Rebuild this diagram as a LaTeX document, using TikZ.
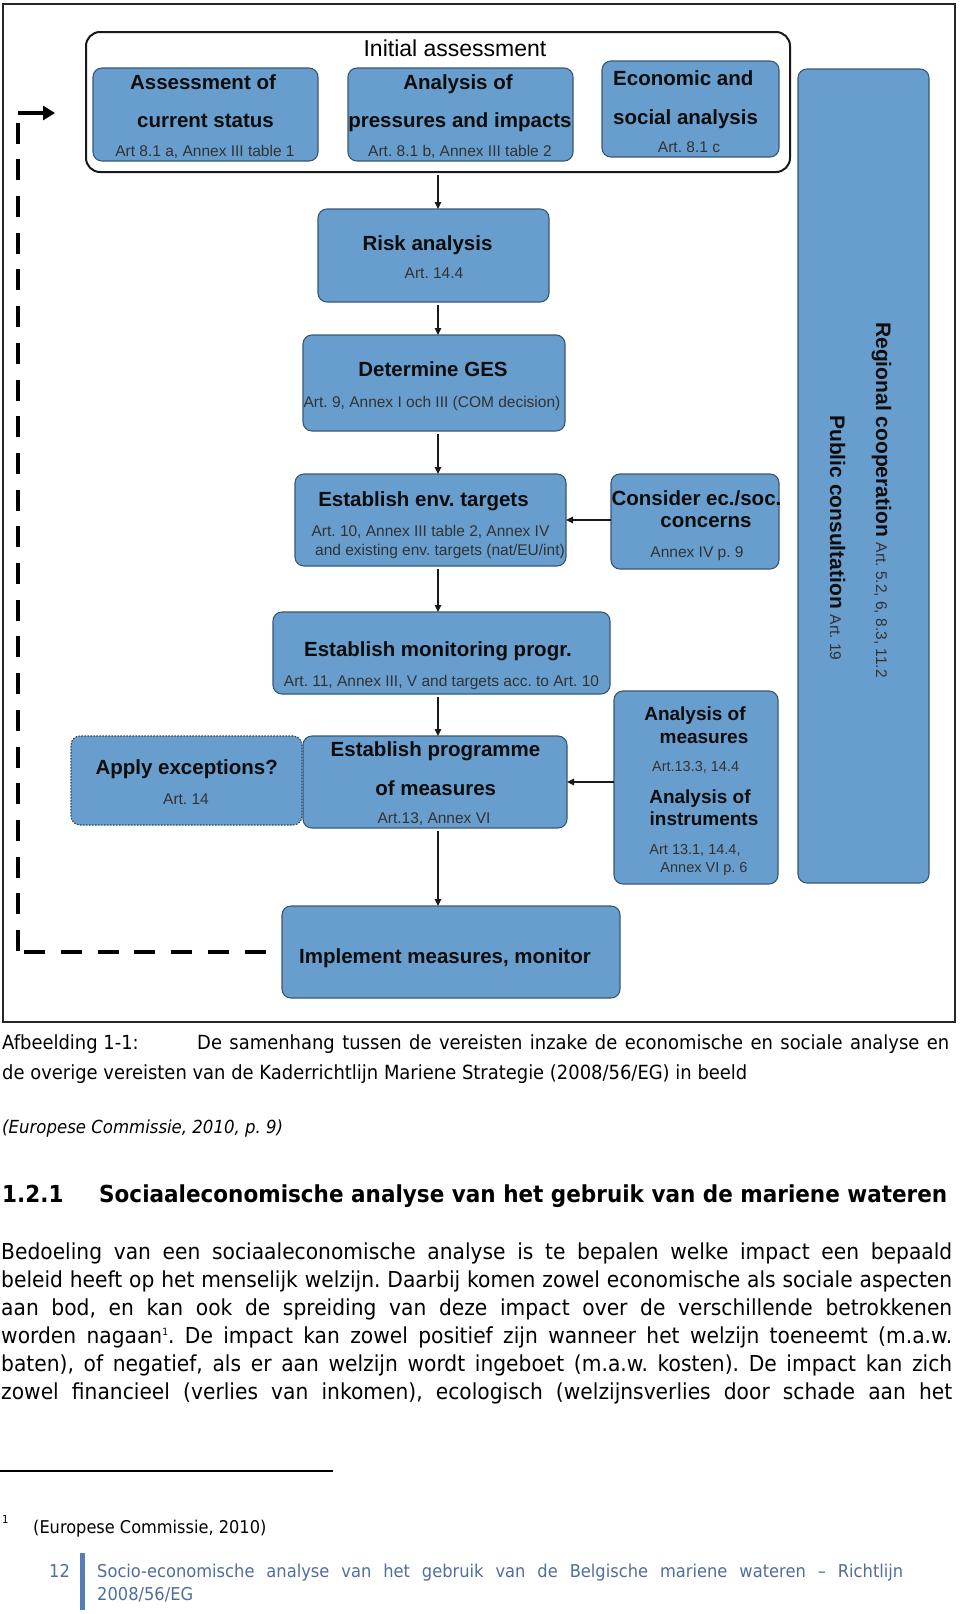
\documentclass[tikz,border=0pt]{standalone}
\usepackage{fontspec}
\setmainfont{DejaVu Sans}[FakeStretch=0.92]
\newfontfamily\arialfont{Liberation Sans}
\usetikzlibrary{arrows.meta}
\frenchspacing
\definecolor{boxblue}{RGB}{104,158,206}
\definecolor{boxline}{RGB}{58,86,118}
\definecolor{artgray}{RGB}{50,50,50}
\definecolor{footblue}{RGB}{80,110,155}
\definecolor{barblue}{RGB}{84,124,184}
\tikzset{
 box/.style={draw=boxline, fill=boxblue, line width=1.1pt, rounded corners=9pt, inner sep=0pt, outer sep=0pt},
 dotbox/.style={box, draw=boxline!80!black, dash pattern=on 1.6pt off 1.4pt},
 ttl/.style={anchor=base, inner sep=0pt, text=black!95, font=\arialfont\bfseries\fontsize{20.5}{20.5}\selectfont},
 sml/.style={anchor=base, inner sep=0pt, text=artgray, font=\arialfont\fontsize{15.5}{15.5}\selectfont},
 ttls/.style={ttl, font=\arialfont\bfseries\fontsize{19}{19}\selectfont},
 smls/.style={sml, font=\arialfont\fontsize{14.5}{14.5}\selectfont},
 rot/.style={anchor=base west, rotate=-90, inner sep=0pt, text=black!95, font=\arialfont\fontsize{21}{21}\selectfont},
 arr/.style={line width=1.3pt, draw=black!90, -{Triangle[length=7pt,width=6.5pt]}, shorten <=3pt},
 fbh/.style={line width=4.5pt, dash pattern=on 21pt off 15.9pt, dash phase=21pt},
 fbv/.style={line width=4.5pt, dash pattern=on 21pt off 15.7pt},
 fbarrow/.style={line width=4.5pt, -{Triangle[length=12pt,width=14pt]}},
 body/.style={anchor=base west, inner sep=0pt, font=\fontsize{22}{28}\selectfont},
 capt/.style={anchor=base west, inner sep=0pt, font=\fontsize{19.5}{19.5}\selectfont},
 foot/.style={anchor=base west, inner sep=0pt, text=footblue, font=\fontsize{17.7}{17.7}\selectfont},
}
\begin{document}
\begin{tikzpicture}[x=1pt,y=-1pt]
\useasboundingbox (0,0) rectangle (960,1614);
\fill[white] (0,0) rectangle (960,1614);

% outer frame
\node[draw=black!85, line width=1.6pt, minimum width=952pt, minimum height=1018pt, inner sep=0pt, outer sep=0pt] (frame) at (479,513) {};

% initial assessment frame
\node[draw=black!90, line width=2pt, rounded corners=14pt, minimum width=704pt, minimum height=140pt, inner sep=0pt, outer sep=0pt] (assess) at (438,102) {};
\node[anchor=base, inner sep=0pt, font=\arialfont\fontsize{23}{23}\selectfont] (assessT) at (455,56.7) {Initial assessment};

% boxes
\node[box, minimum width=225pt, minimum height=93pt] (cur) at (205.5,114.5) {};
\node[box, minimum width=225pt, minimum height=93pt] (press) at (460.5,114.5) {};
\node[box, minimum width=177pt, minimum height=96pt] (econ) at (690.5,109) {};
\node[box, minimum width=131pt, minimum height=814pt] (tall) at (863.5,476) {};
\node[box, minimum width=231pt, minimum height=93pt] (risk) at (433.5,255.5) {};
\node[box, minimum width=262pt, minimum height=96pt] (ges) at (434,383) {};
\node[box, minimum width=271pt, minimum height=92pt] (env) at (430.5,520) {};
\node[box, minimum width=168pt, minimum height=95pt] (cons) at (695,521.5) {};
\node[box, minimum width=337pt, minimum height=82pt] (mon) at (441.5,653) {};
\node[dotbox, minimum width=231pt, minimum height=89pt] (exc) at (186.5,780.5) {};
\node[box, minimum width=264pt, minimum height=92pt] (prog) at (435,782) {};
\node[box, minimum width=164pt, minimum height=193pt] (meas) at (696,787.5) {};
\node[box, minimum width=338pt, minimum height=92pt] (impl) at (451,952) {};

% box texts
\node[ttl] (curA) at (203,89.3) {Assessment of};
\node[ttl] (curB) at (205.5,127.7) {current status};
\node[sml] (curC) at (205,156) {Art 8.1 a, Annex III table 1};

\node[ttl] (pressA) at (458,89.3) {Analysis of};
\node[ttl] (pressB) at (460,127.7) {pressures and impacts};
\node[sml] (pressC) at (460,156) {Art. 8.1 b, Annex III table 2};

\node[ttl, anchor=base west] (econA) at (613,85) {Economic and};
\node[ttl, anchor=base west] (econB) at (613,124) {social analysis};
\node[sml] (econC) at (689,152.7) {Art. 8.1 c};

\node[ttl] (riskA) at (427.5,250.7) {Risk analysis};
\node[sml] (riskB) at (434,278) {Art. 14.4};

\node[ttl] (gesA) at (433,376) {Determine GES};
\node[sml] (gesB) at (432,407) {Art. 9, Annex I och III (COM decision)};

\node[ttl] (envA) at (423.5,506) {Establish env. targets};
\node[sml] (envB) at (430.5,536.5) {Art. 10, Annex III table 2, Annex IV};
\node[sml] (envC) at (440,555.5) {and existing env. targets (nat/EU/int)};

\node[ttl] (consA) at (696.5,505.5) {Consider ec./soc.};
\node[ttl] (consB) at (706,527) {concerns};
\node[sml] (consC) at (697,557) {Annex IV p. 9};

\node[ttl] (monA) at (438,656) {Establish monitoring progr.};
\node[sml] (monB) at (441.5,686) {Art. 11, Annex III, V and targets acc. to Art. 10};

\node[ttl] (excA) at (186.7,774) {Apply exceptions?};
\node[sml] (excB) at (186,804) {Art. 14};

\node[ttl] (progA) at (435.5,756.7) {Establish programme};
\node[ttl] (progB) at (435.7,795) {of measures};
\node[sml] (progC) at (434,823) {Art.13, Annex VI};

\node[ttls] (measA) at (695,720) {Analysis of};
\node[ttls] (measB) at (704,743) {measures};
\node[smls] (measC) at (695.6,771) {Art.13.3, 14.4};
\node[ttls] (measD) at (700,803) {Analysis of};
\node[ttls] (measE) at (704,825.7) {instruments};
\node[smls] (measF) at (695,854) {Art 13.1, 14.4,};
\node[smls] (measG) at (704,872.7) {Annex VI p. 6};

\node[ttl] (implA) at (445,963) {Implement measures, monitor};

\node[rot] (tallA) at (876,322) {{\bfseries Regional cooperation} {\color{artgray}\fontsize{15.5}{15.5}\selectfont Art. 5.2, 6, 8.3, 11.2}};
\node[rot] (tallB) at (830,415) {{\bfseries Public consultation} {\color{artgray}\fontsize{15.5}{15.5}\selectfont Art. 19}};

% connectors
\coordinate (ax) at (438,0);
\draw[arr] (assess.south -| ax) -- (risk.north -| ax);
\draw[arr] (risk.south -| ax) -- (ges.north -| ax);
\draw[arr] (ges.south -| ax) -- (env.north -| ax);
\draw[arr] (env.south -| ax) -- (mon.north -| ax);
\draw[arr] (mon.south -| ax) -- (prog.north -| ax);
\draw[arr] (prog.south -| ax) -- (impl.north -| ax);
\draw[arr, shorten <=0pt] (cons.west |- env.east) -- (env.east);
\draw[arr, shorten <=0pt] (meas.west |- prog.east) -- (prog.east);

% feedback loop
\coordinate (fbc) at (18,951);
\coordinate (fbk) at (18,113);
\coordinate (fbtip) at (55,113);
\draw[fbh] (impl.west) -- (impl.west -| fbc);
\draw[fbv] (fbc) -- (fbk);
\draw[fbarrow] (fbk) -- (fbtip);

% caption and text
\node[capt] (capA) at (2,1049) {Afbeelding 1-1:};
\node[capt] (capB) at (197,1049) {\makebox[752pt][s]{De samenhang tussen de vereisten inzake de economische en sociale analyse en}};
\node[capt] (capC) at (2,1079) {de overige vereisten van de Kaderrichtlijn Mariene Strategie (2008/56/EG) in beeld};
\node[anchor=base west, inner sep=0pt, font=\itshape\fontsize{18}{18}\selectfont] (src) at (2,1133) {(Europese Commissie, 2010, p. 9)};

\node[anchor=base west, inner sep=0pt, font=\bfseries\fontsize{23.4}{23.4}\selectfont] (hnum) at (2,1202) {1.2.1};
\node[anchor=base west, inner sep=0pt, font=\bfseries\fontsize{23.4}{23.4}\selectfont] (htxt) at (99,1202) {Sociaaleconomische analyse van het gebruik van de mariene wateren};

\node[body] (b1) at (1,1259) {\makebox[951pt][s]{Bedoeling van een sociaaleconomische analyse is te bepalen welke impact een bepaald}};
\node[body] (b2) at (1,1287) {\makebox[951pt][s]{beleid heeft op het menselijk welzijn. Daarbij komen zowel economische als sociale aspecten}};
\node[body] (b3) at (1,1315) {\makebox[951pt][s]{aan bod, en kan ook de spreiding van deze impact over de verschillende betrokkenen}};
\node[body] (b4) at (1,1343) {\makebox[951pt][s]{worden nagaan{\fontsize{10}{10}\selectfont\raisebox{8pt}{1}}. De impact kan zowel positief zijn wanneer het welzijn toeneemt (m.a.w.}};
\node[body] (b5) at (1,1371) {\makebox[951pt][s]{baten), of negatief, als er aan welzijn wordt ingeboet (m.a.w. kosten). De impact kan zich}};
\node[body] (b6) at (1,1399) {\makebox[951pt][s]{zowel financieel (verlies van inkomen), ecologisch (welzijnsverlies door schade aan het}};

% footnote
\draw[line width=1.5pt] (0,1471) -- (333,1471);
\node[anchor=base west, inner sep=0pt, font=\fontsize{11}{11}\selectfont] (fnm) at (2,1523) {1};
\node[anchor=base west, inner sep=0pt, font=\fontsize{17.6}{17.6}\selectfont] (fnt) at (33,1533) {(Europese Commissie, 2010)};

% footer
\node[foot] (pg) at (49,1577) {12};
\fill[barblue] (80,1553) rectangle (85,1610);
\node[foot] (ft1) at (97,1577) {\makebox[806pt][s]{Socio-economische analyse van het gebruik van de Belgische mariene wateren – Richtlijn}};
\node[foot] (ft2) at (97,1600) {2008/56/EG};
\end{tikzpicture}
\end{document}
